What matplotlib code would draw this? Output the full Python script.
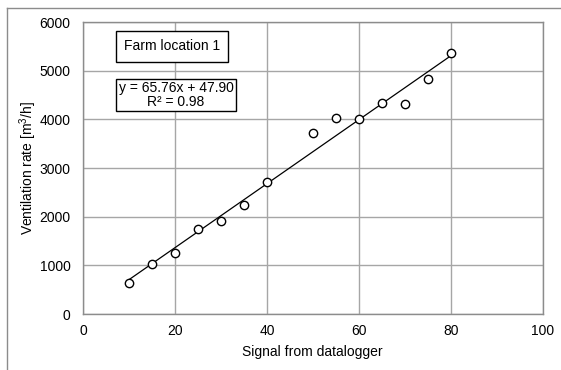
import matplotlib
matplotlib.use("Agg")
import matplotlib.pyplot as plt
import numpy as np
from matplotlib.lines import Line2D

# measured signal vs ventilation rate
signal = [10, 15, 20, 25, 30, 35, 40, 50, 55, 60, 65, 70, 75, 80]
ventilation = [640, 1035, 1245, 1750, 1920, 2240, 2715, 3725, 4035, 4010, 4340, 4305, 4830, 5365]

# linear trend shown in the chart
slope = 65.76
intercept = 47.90
r2 = 0.98

x_ticks = [0, 20, 40, 60, 80, 100]
y_ticks = [0, 1000, 2000, 3000, 4000, 5000, 6000]

plt.rcParams['font.family'] = ['Liberation Sans', 'DejaVu Sans']
plt.rcParams['mathtext.fontset'] = 'custom'
plt.rcParams['mathtext.rm'] = 'Liberation Sans'

W, H = 561, 370
fig = plt.figure(figsize=(W / 100, H / 100), dpi=100)
ax = fig.add_axes([83 / W, 1 - 314 / H, (543 - 83) / W, (314 - 22) / H])

xs = np.array([min(signal), max(signal)])
ax.plot(xs, slope * xs + intercept, color='black', lw=0.9, zorder=3)
ax.plot(signal, ventilation, 'o', ms=6, mfc='white', mec='black', mew=1.0, zorder=4)

ax.set_xlim(0, 100)
ax.set_ylim(0, 6000)
ax.set_xticks(x_ticks)
ax.set_yticks(y_ticks)
ax.grid(True, color='#a6a6a6', lw=1.0)
ax.set_axisbelow(True)
for s in ax.spines.values():
    s.set_color('#8c8c8c')
    s.set_linewidth(1.0)
ax.tick_params(length=0, labelsize=10)
ax.tick_params(axis='y', pad=9)
ax.tick_params(axis='x', pad=7)
ax.set_xlabel("Signal from datalogger", fontsize=10)
ax.set_ylabel("Ventilation rate [m$\\mathregular{^3}$/h]", fontsize=10)
ax.xaxis.set_label_coords((312 - 83) / (543 - 83), -(352 - 314) / (314 - 22))
ax.yaxis.set_label_coords(-(83 - 28) / (543 - 83), 0.5)
ax.xaxis.label.set_va('center')
ax.yaxis.label.set_va('center')

ax.text(172 / W, 1 - 46.5 / H, "Farm location 1", transform=fig.transFigure,
        ha='center', va='center', fontsize=10,
        bbox=dict(boxstyle='square,pad=0.6', fc='white', ec='black', lw=1.0))
ax.text(176 / W, 1 - 95 / H, f"y = {slope:.2f}x + {intercept:.2f}\nR² = {r2:.2f}",
        transform=fig.transFigure, ha='center', va='center', fontsize=10,
        linespacing=1.0,
        bbox=dict(boxstyle='square,pad=0.15', fc='white', ec='black', lw=1.0))

# outer frame (top and left edges)
fig.add_artist(Line2D([7 / W, 1], [1 - 8 / H, 1 - 8 / H], color='#8c8c8c', lw=1.0))
fig.add_artist(Line2D([7 / W, 7 / W], [0, 1 - 8 / H], color='#8c8c8c', lw=1.0))

fig.savefig("out.png", dpi=100)
